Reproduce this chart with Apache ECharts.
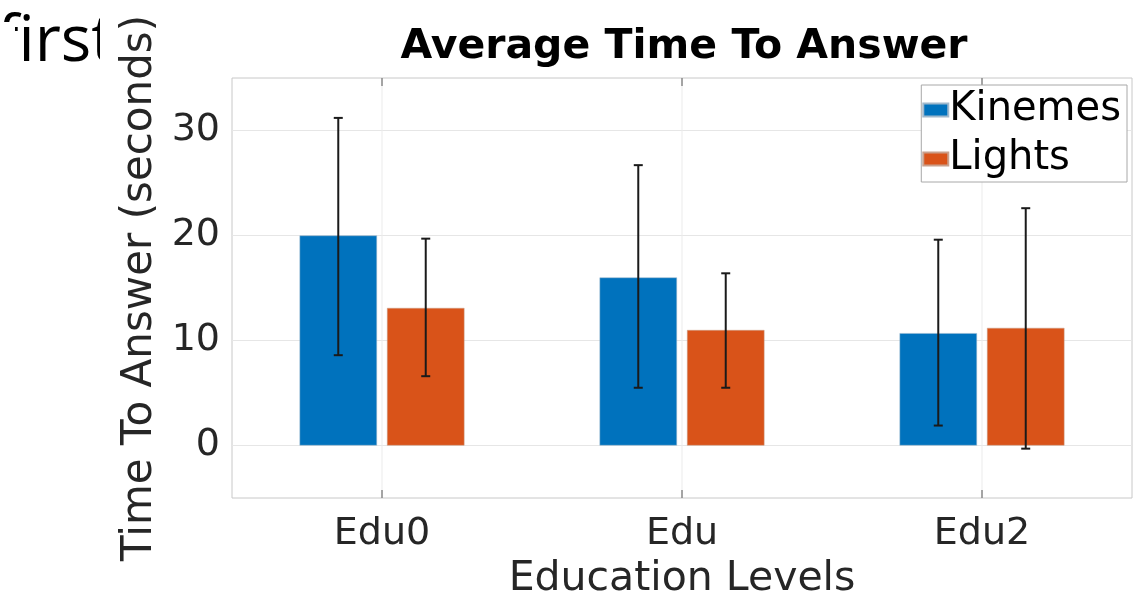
<!DOCTYPE html>
<html>
<head>
<meta charset="utf-8">
<script src="https://cdn.jsdelivr.net/npm/echarts@6/dist/echarts.min.js"></script>
<style>
  html, body { margin: 0; padding: 0; background: #fff; }
  #chart { width: 1144px; height: 597px; }
</style>
</head>
<body>
<div id="chart"></div>
<script>
// data
const categories = ['Edu0', 'Edu', 'Edu2'];
const seriesNames = ['Kinemes', 'Lights'];
const kinemesMean = [20.0, 16.0, 10.7];
const lightsMean = [13.1, 11.0, 11.2];
const kinemesLow = [8.6, 5.5, 1.9];
const kinemesHigh = [31.2, 26.7, 19.6];
const lightsLow = [6.6, 5.5, -0.3];
const lightsHigh = [19.7, 16.4, 22.6];
const yTickLabels = [0, 10, 20, 30];

const BAR_W = 0.258;   // fraction of category band
const BAR_GAP = 0.13;  // fraction of bar width
const FONT = 'DejaVu Sans';

document.addEventListener('DOMContentLoaded', function () {
    const chart = echarts.init(document.getElementById('chart'));

    function errorBars(low, high, dir) {
        return {
            type: 'custom',
            z: 5,
            silent: true,
            data: categories.map((c, i) => [i, low[i], high[i]]),
            encode: { x: 0, y: [1, 2] },
            renderItem: function (params, api) {
                const band = api.size([1, 0])[0];
                const bw = band * BAR_W;
                const off = dir * (bw + bw * BAR_GAP) / 2;
                const top = api.coord([api.value(0), api.value(2)]);
                const bot = api.coord([api.value(0), api.value(1)]);
                const cx = top[0] + off;
                const cap = 4.5;
                const style = { stroke: '#1a1a1a', lineWidth: 2 };
                return {
                    type: 'group',
                    children: [
                        { type: 'line', shape: { x1: cx, y1: top[1], x2: cx, y2: bot[1] }, style: style },
                        { type: 'line', shape: { x1: cx - cap, y1: top[1], x2: cx + cap, y2: top[1] }, style: style },
                        { type: 'line', shape: { x1: cx - cap, y1: bot[1], x2: cx + cap, y2: bot[1] }, style: style }
                    ]
                };
            }
        };
    }

    // vertical grid lines + box ticks at category centres
    const catLines = {
        type: 'custom',
        z: 1,
        silent: true,
        data: categories.map((c, i) => [i, 0]),
        encode: { x: 0, y: 1 },
        renderItem: function (params, api) {
            const cs = params.coordSys;
            const p = api.coord([api.value(0), 0]);
            return {
                type: 'group',
                children: [
                    { type: 'line', shape: { x1: p[0], y1: cs.y, x2: p[0], y2: cs.y + cs.height }, style: { stroke: '#ebebeb', lineWidth: 1 } },
                    { type: 'line', shape: { x1: p[0], y1: cs.y, x2: p[0], y2: cs.y + 8 }, style: { stroke: '#555', lineWidth: 1 } },
                    { type: 'line', shape: { x1: p[0], y1: cs.y + cs.height - 8, x2: p[0], y2: cs.y + cs.height }, style: { stroke: '#555', lineWidth: 1 } }
                ]
            };
        }
    };

    const option = {
        animation: false,
        backgroundColor: '#fff',
        title: {
            text: 'Average Time To Answer',
            left: 679,
            top: 22,
            textAlign: 'center',
            textStyle: { fontFamily: FONT, fontSize: 41, fontWeight: 'bold', color: '#000' }
        },
        legend: {
            data: seriesNames,
            orient: 'vertical',
            right: 17,
            top: 85,
            padding: [5, 6, 3, 1],
            itemGap: 9,
            itemWidth: 25,
            itemHeight: 13,
            icon: 'rect',
            backgroundColor: '#fff',
            borderColor: '#a8a8a8',
            borderWidth: 1,
            textStyle: { fontFamily: FONT, fontSize: 40, color: '#000', padding: [0, 0, 0, -4] }
        },
        grid: {
            left: 232,
            right: 12,
            top: 78,
            bottom: 99,
            outerBoundsMode: 'none',
            show: true,
            borderColor: '#c8c8c8',
            borderWidth: 1
        },
        graphic: [
            {
                type: 'text',
                left: -3,
                top: 11,
                z: -1,
                style: { text: 'first', font: '64px "Open Sans"', fill: '#000' }
            },
            {
                type: 'rect',
                left: 0,
                top: 22,
                z: 0,
                shape: { width: 15, height: 60 },
                style: { fill: '#fff' }
            },
            {
                type: 'rect',
                left: 100,
                top: 0,
                z: 0,
                shape: { width: 22, height: 80 },
                style: { fill: '#fff' }
            }
        ],
        xAxis: {
            type: 'category',
            data: categories,
            name: 'Education Levels',
            nameLocation: 'middle',
            nameGap: 61,
            nameTextStyle: { fontFamily: FONT, fontSize: 41, color: '#262626' },
            axisLine: { show: false },
            axisTick: { show: false },
            splitLine: { show: false },
            axisLabel: { fontFamily: FONT, fontSize: 38, color: '#262626', margin: 17 }
        },
        yAxis: {
            type: 'value',
            min: -5,
            max: 35,
            interval: 5,
            name: 'Time To Answer (seconds)',
            nameLocation: 'middle',
            nameGap: 64,
            nameTextStyle: { fontFamily: FONT, fontSize: 42, color: '#262626' },
            axisLine: { show: false },
            axisTick: { show: false },
            axisLabel: {
                fontFamily: FONT,
                fontSize: 38,
                color: '#262626',
                margin: 12,
                formatter: function (v) { return yTickLabels.indexOf(v) >= 0 ? String(v) : ''; }
            },
            splitLine: { lineStyle: { color: ['rgba(0,0,0,0)', '#e6e6e6'], width: 1 } }
        },
        series: [
            catLines,
            {
                name: seriesNames[0],
                type: 'bar',
                data: kinemesMean,
                barWidth: (BAR_W * 100) + '%',
                barGap: (BAR_GAP * 100) + '%',
                itemStyle: { color: '#0072BD', borderColor: '#9fb8cc', borderWidth: 0.5 },
                z: 2
            },
            {
                name: seriesNames[1],
                type: 'bar',
                data: lightsMean,
                barWidth: (BAR_W * 100) + '%',
                barGap: (BAR_GAP * 100) + '%',
                itemStyle: { color: '#D95319', borderColor: '#c9a08c', borderWidth: 0.5 },
                z: 2
            },
            errorBars(kinemesLow, kinemesHigh, -1),
            errorBars(lightsLow, lightsHigh, 1)
        ]
    };
    chart.setOption(option);
});
</script>
</body>
</html>
